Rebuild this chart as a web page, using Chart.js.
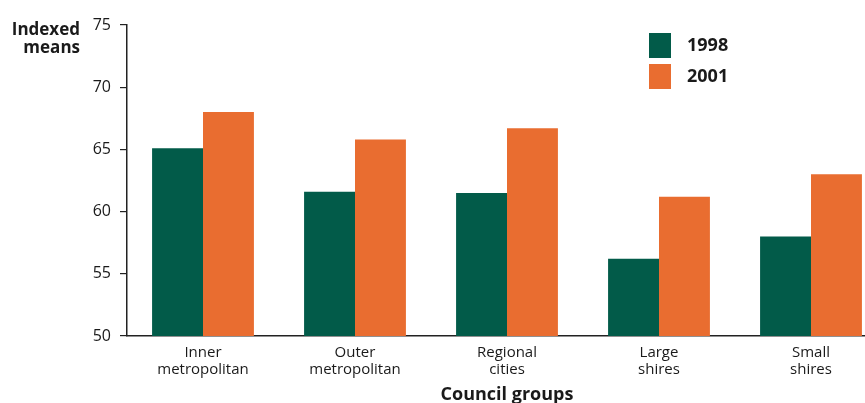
<!DOCTYPE html>
<html>
<head>
<meta charset="utf-8">
<script src="https://cdn.jsdelivr.net/npm/chart.js@4/dist/chart.umd.min.js"></script>
<style>
    html, body { margin: 0; padding: 0; background: #fff; overflow: hidden; }
    #wrap { position: relative; width: 888px; height: 403px; }
</style>
</head>
<body>
<div id="wrap"><canvas id="councilChart"></canvas></div>
<script>
// chart values
const categories = [
    ['Inner', 'metropolitan'],
    ['Outer', 'metropolitan'],
    ['Regional', 'cities'],
    ['Large', 'shires'],
    ['Small', 'shires']
];
const seriesNames = ['1998', '2001'];
const values1998 = [65.1, 61.6, 61.5, 56.2, 58.0];
const values2001 = [68.0, 65.8, 66.7, 61.2, 63.0];
const yTicks = [50, 55, 60, 65, 70, 75];

const GREEN = '#025b49';
const ORANGE = '#e96d30';
const INK = '#1a1a1a';
const FONT = "'Open Sans', 'Noto Sans', sans-serif";

// legend box in the top right of the plot
const legendPlugin = {
    id: 'boxLegend',
    afterDraw(chart) {
        const ctx = chart.ctx;
        ctx.save();
        ctx.font = 'bold 18px ' + FONT;
        ctx.textBaseline = 'middle';
        ctx.textAlign = 'left';
        chart.data.datasets.forEach((ds, i) => {
            const y = 33 + i * 31;
            ctx.fillStyle = ds.backgroundColor;
            ctx.fillRect(649, y, 22, 25);
            ctx.fillStyle = INK;
            ctx.fillText(ds.label, 687, y + 13);
        });
        ctx.restore();
    }
};

// horizontal y axis title in the top left corner
const yTitlePlugin = {
    id: 'yTitle',
    afterDraw(chart) {
        const ctx = chart.ctx;
        ctx.save();
        ctx.font = 'bold 17px ' + FONT;
        ctx.fillStyle = INK;
        ctx.textAlign = 'right';
        ctx.textBaseline = 'middle';
        ctx.fillText('Indexed', 80, 30);
        ctx.fillText('means', 80, 48);
        ctx.restore();
    }
};

const ctx = document.getElementById('councilChart').getContext('2d');
const councilChart = new Chart(ctx, {
    type: 'bar',
    data: {
        labels: categories,
        datasets: [
            { label: seriesNames[0], data: values1998, backgroundColor: GREEN },
            { label: seriesNames[1], data: values2001, backgroundColor: ORANGE }
        ]
    },
    options: {
        responsive: true,
        maintainAspectRatio: false,
        animation: false,
        layout: { padding: { top: 25, right: 1, bottom: 0, left: 0 } },
        datasets: {
            bar: { categoryPercentage: 0.67, barPercentage: 1.0, borderWidth: 0 }
        },
        plugins: {
            legend: { display: false },
            tooltip: { enabled: false }
        },
        scales: {
            x: {
                afterFit(scale) {
                    scale.height = 67;
                },
                grid: { display: false, drawTicks: false },
                border: { display: true, color: '#222', width: 1.5 },
                ticks: {
                    color: INK,
                    font: { family: FONT, size: 15, lineHeight: 1.15 },
                    padding: 8,
                    maxRotation: 0
                },
                title: {
                    display: true,
                    text: 'Council groups',
                    color: INK,
                    font: { family: FONT, size: 18, weight: 'bold', lineHeight: 0.9 },
                    padding: { top: 0, bottom: 0 }
                }
            },
            y: {
                min: 50,
                max: 75,
                afterBuildTicks(scale) {
                    scale.ticks = yTicks.map(v => ({ value: v }));
                },
                afterFit(scale) {
                    scale.width = 127;
                },
                grid: {
                    display: true,
                    drawOnChartArea: false,
                    drawTicks: true,
                    tickLength: 7,
                    color: '#222',
                    lineWidth: 1.2
                },
                border: { display: true, color: '#222', width: 1.5 },
                ticks: {
                    color: INK,
                    font: { family: FONT, size: 16 },
                    padding: 9
                }
            }
        }
    },
    plugins: [legendPlugin, yTitlePlugin]
});
</script>
</body>
</html>
